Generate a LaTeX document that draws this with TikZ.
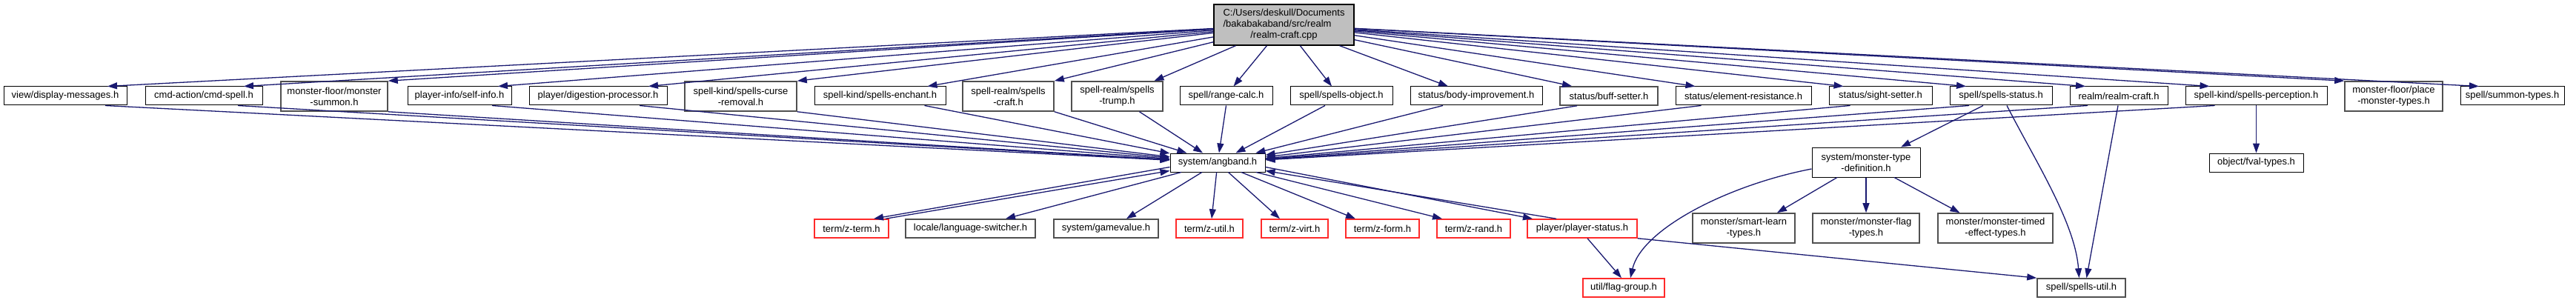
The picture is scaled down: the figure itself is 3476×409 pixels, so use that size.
\documentclass[tikz,border=0pt]{standalone}
\usepackage{fontspec}
\setmainfont{Liberation Sans}
\usetikzlibrary{arrows.meta,calc}
\definecolor{edgec}{HTML}{191970}
\definecolor{greyb}{HTML}{505050}
\definecolor{redb}{HTML}{FF2A2A}
\definecolor{rootfill}{HTML}{BFBFBF}
\begin{document}
\begin{tikzpicture}[x=1pt,y=-1pt,
  box/.style={draw=black, line width=1pt, fill=white, rectangle, inner sep=0pt,
    minimum height=25pt, align=center, font=\fontsize{13}{15}\selectfont},
  dbl/.style={minimum height=40pt},
  gbox/.style={draw=greyb, line width=1.6pt},
  rbox/.style={draw=redb, line width=1.5pt},
  edge/.style={draw=edgec, line width=1.3pt, -{Triangle[length=13pt,width=9pt]}}
]
\useasboundingbox (0,0) rectangle (3476,409);

% root
\node[box, fill=rootfill, line width=1.3pt, minimum width=189pt, minimum height=55pt] (root) at (1732.5,33.5)
  {\begin{tabular}{@{}l@{}}C:/Users/deskull/Documents\\/bakabakaband/src/realm\\\multicolumn{1}{@{}c@{}}{/realm-craft.cpp}\end{tabular}};

% row 1
\node[box, minimum width=166pt] (disp) at (88,129.5) {view/display-messages.h};
\node[box, minimum width=158pt] (cmdspell) at (275,129.5) {cmd-action/cmd-spell.h};
\node[box, gbox, dbl, minimum width=144pt] (msummon) at (451,130) {monster-floor/monster\\-summon.h};
\node[box, minimum width=140pt] (selfinfo) at (620,129.5) {player-info/self-info.h};
\node[box, minimum width=186pt] (digest) at (807,129.5) {player/digestion-processor.h};
\node[box, gbox, dbl, minimum width=151pt] (curse) at (999.5,130) {spell-kind/spells-curse\\-removal.h};
\node[box, minimum width=177pt] (enchant) at (1187.5,129.5) {spell-kind/spells-enchant.h};
\node[box, gbox, dbl, minimum width=123pt] (scraft) at (1360.5,130) {spell-realm/spells\\-craft.h};
\node[box, gbox, dbl, minimum width=123pt] (strump) at (1507.5,130) {spell-realm/spells\\-trump.h};
\node[box, minimum width=125pt] (range) at (1654.5,129.5) {spell/range-calc.h};
\node[box, minimum width=138pt] (sobj) at (1810,129.5) {spell/spells-object.h};
\node[box, minimum width=178pt] (body) at (1992,129.5) {status/body-improvement.h};
\node[box, gbox, minimum width=132pt] (buff) at (2171,129.5) {status/buff-setter.h};
\node[box, minimum width=183pt] (elem) at (2352.5,129.5) {status/element-resistance.h};
\node[box, minimum width=139pt] (sight) at (2537.5,129.5) {status/sight-setter.h};
\node[box, minimum width=138pt] (sstatus) at (2700,129.5) {spell/spells-status.h};
\node[box, minimum width=132pt] (rcraft) at (2859,129.5) {realm/realm-craft.h};
\node[box, minimum width=191pt] (sperc) at (3044.5,129.5) {spell-kind/spells-perception.h};
\node[box, gbox, dbl, minimum width=132pt] (place) at (3230,130) {monster-floor/place\\-monster-types.h};
\node[box, minimum width=140pt] (summon) at (3390,129.5) {spell/summon-types.h};

% row 2
\node[box, minimum width=128pt] (angband) at (1643,219.5) {system/angband.h};
\node[box, dbl, minimum width=146pt] (mdef) at (2518,219) {system/monster-type\\-definition.h};
\node[box, minimum width=127pt] (fval) at (3044.5,219.5) {object/fval-types.h};

% row 3
\node[box, rbox, minimum width=100pt] (zterm) at (1149,308.5) {term/z-term.h};
\node[box, gbox, minimum width=175pt] (lang) at (1309.5,308.5) {locale/language-switcher.h};
\node[box, gbox, minimum width=141pt] (gamev) at (1492.5,308.5) {system/gamevalue.h};
\node[box, rbox, minimum width=90pt] (zutil) at (1632,308.5) {term/z-util.h};
\node[box, rbox, minimum width=90pt] (zvirt) at (1747,308.5) {term/z-virt.h};
\node[box, rbox, minimum width=99pt] (zform) at (1865.5,308.5) {term/z-form.h};
\node[box, rbox, minimum width=99pt] (zrand) at (1988.5,308.5) {term/z-rand.h};
\node[box, rbox, minimum width=148pt] (pstatus) at (2135,308.5) {player/player-status.h};
\node[box, gbox, dbl, minimum width=138pt] (smart) at (2353,308) {monster/smart-learn\\-types.h};
\node[box, gbox, dbl, minimum width=144pt] (mflag) at (2518,308) {monster/monster-flag\\-types.h};
\node[box, gbox, dbl, minimum width=155pt] (mtimed) at (2692.5,308) {monster/monster-timed\\-effect-types.h};

% row 4
\node[box, rbox, minimum width=110pt] (flag) at (2191,388.5) {util/flag-group.h};
\node[box, gbox, minimum width=119pt] (sutil) at (2808.5,388.5) {spell/spells-util.h};

% root -> row 1
\draw[edge] (root) -- ([xshift=57pt]disp.north);
\draw[edge] (root) -- ([xshift=54pt]cmdspell.north);
\draw[edge] (root) -- (msummon.north east);
\draw[edge] (root) -- ([xshift=52pt]selfinfo.north);
\draw[edge] (root) -- ([xshift=68pt]digest.north);
\draw[edge] (root) -- (curse.north east);
\draw[edge] (root) -- ([xshift=64pt]enchant.north);
\draw[edge] (root) -- (scraft.north east);
\draw[edge] (root) -- ([xshift=50pt]strump.north);
\draw[edge] (root) -- ([xshift=10pt]range.north);
\draw[edge] (root) -- ([xshift=-13pt]sobj.north);
\draw[edge] (root) -- ([xshift=-38pt]body.north);
\draw[edge] (root) -- ([xshift=-50pt]buff.north);
\draw[edge] (root) -- ([xshift=-65pt]elem.north);
\draw[edge] (root) -- ([xshift=-50pt]sight.north);
\draw[edge] (root) -- ([xshift=-47pt]sstatus.north);
\draw[edge] (root) -- ([xshift=-45pt]rcraft.north);
\draw[edge] (root) -- ([xshift=-63pt]sperc.north);
\draw[edge] (root) -- (place.north west);
\draw[edge] (root) -- ([xshift=-45pt]summon.north);

% row 1 -> angband
\draw[edge] ([xshift=54pt]disp.south) -- (angband);
\draw[edge] ([xshift=46pt]cmdspell.south) -- (angband);
\draw[edge] (msummon.south east) -- (angband);
\draw[edge] ([xshift=44pt]selfinfo.south) -- (angband);
\draw[edge] ([xshift=56pt]digest.south) -- (angband);
\draw[edge] (curse.south east) -- (angband);
\draw[edge] ([xshift=60pt]enchant.south) -- (angband);
\draw[edge] (scraft.south east) -- (angband);
\draw[edge] ([xshift=30pt]strump.south) -- (angband);
\draw[edge] (range.south) -- (angband);
\draw[edge] ([xshift=-22pt]sobj.south) -- (angband);
\draw[edge] ([xshift=-45pt]body.south) -- (angband);
\draw[edge] ([xshift=-43pt]buff.south) -- (angband);
\draw[edge] ([xshift=-57pt]elem.south) -- (angband);
\draw[edge] ([xshift=-41pt]sight.south) -- (angband);
\draw[edge] ([xshift=-43pt]sstatus.south) -- (angband);
\draw[edge] ([xshift=-42pt]rcraft.south) -- (angband);
\draw[edge] ([xshift=-56pt]sperc.south) -- (angband);

% other row 1 edges
\draw[edge] ([xshift=-24pt]sstatus.south) -- ([xshift=47pt]mdef.north);
\draw[edge] ([xshift=8pt]sstatus.south) .. controls (2745,215) and (2800,300) .. ([xshift=-3pt]sutil.north);
\draw[edge] ([xshift=-1pt]rcraft.south) -- ([xshift=7pt]sutil.north);
\draw[edge] (sperc.south) -- (fval.north);

% angband -> row 3
\draw[edge] ([yshift=-6pt]angband.west) -- ([xshift=30pt]zterm.north);
\draw[edge] ([xshift=46pt]zterm.north) -- ([yshift=2pt]angband.south west);
\draw[edge] (angband) -- ([xshift=47.5pt]lang.north);
\draw[edge] (angband) -- ([xshift=27.5pt]gamev.north);
\draw[edge] (angband) -- ([xshift=3pt]zutil.north);
\draw[edge] (angband) -- ([xshift=-20pt]zvirt.north);
\draw[edge] (angband) -- ([xshift=-36.5pt]zform.north);
\draw[edge] (angband) -- ([xshift=-42.5pt]zrand.north);
\draw[edge] ([yshift=-6pt]angband.east) -- ([xshift=-67pt]pstatus.north);
\draw[edge] ([xshift=-35pt]pstatus.north) -- ([yshift=2pt]angband.south east);

% monster-type-definition
\draw[edge] ([yshift=-9pt]mdef.west) .. controls (2330,250) and (2215,310) .. ([xshift=9pt]flag.north);
\draw[edge] ([xshift=-39pt]mdef.south) -- ([xshift=45pt]smart.north);
\draw[edge] (mdef.south) -- (mflag.north);
\draw[edge] ([xshift=38pt]mdef.south) -- ([xshift=-48pt]mtimed.north);

% player-status
\draw[edge] ([xshift=7pt]pstatus.south) -- ([xshift=-3pt]flag.north);
\draw[edge] (pstatus.south east) -- (sutil.north west);
\end{tikzpicture}
\end{document}
